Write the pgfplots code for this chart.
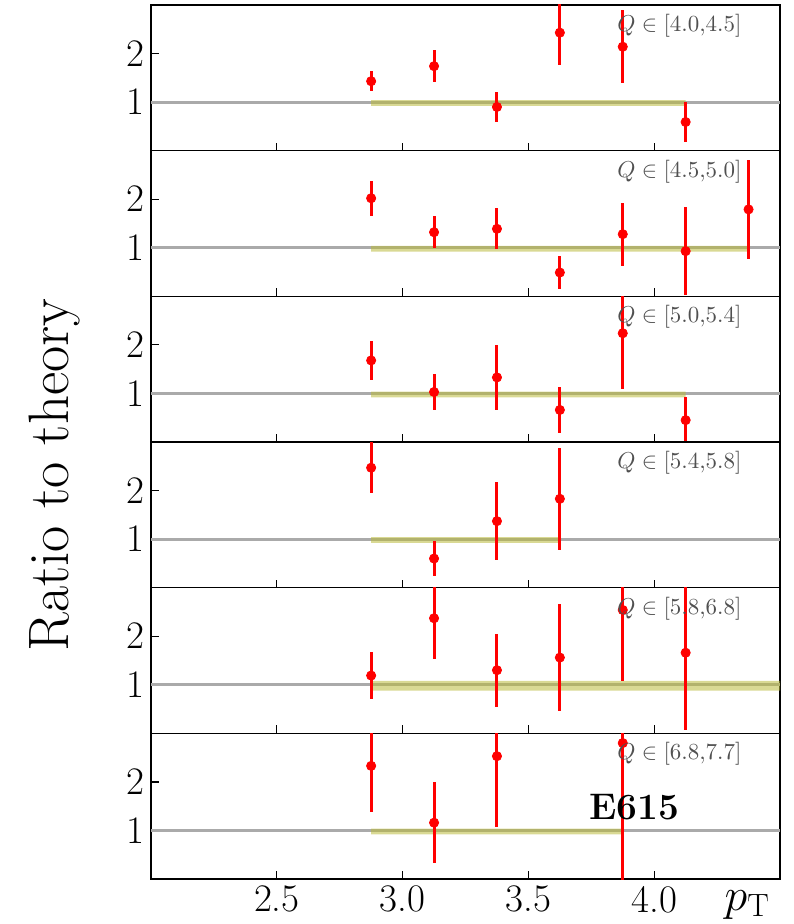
\RequirePackage{fix-cm}
\documentclass[border=0pt]{standalone}
\usepackage{fontspec}
\usepackage{pgfplots}
\pgfplotsset{compat=1.18}
\definecolor{bandc}{RGB}{185,185,60}
\definecolor{linec}{RGB}{170,170,170}
\definecolor{qtext}{RGB}{80,80,80}
\pgfplotsset{
  panel/.style={
    width=314.5pt, height=72.83pt, scale only axis,
    xmin=2, xmax=4.5, ymin=0, ymax=3,
    xtick={2.5,3,3.5,4}, ytick={1,2},
    xticklabels={},
    tick align=inside, xtick pos=bottom, ytick pos=left,
    major tick length=4pt,
    tick style={black, line width=0.6pt},
    axis line style={line width=0.8pt},
    ticklabel style={font=\fontsize{19.5}{19.5}\selectfont},
    anchor=north west,
    clip mode=individual,
  },
  dat/.style={red, only marks, mark=*, mark size=2.3pt, mark options={fill=red, draw=red},
    error bars/.cd, y dir=both, y explicit, error bar style={line width=1.5pt, red}, error mark=none},
}
\tikzset{ql/.style={anchor=east, text=qtext, font=\fontsize{11.5}{11.5}\selectfont}}
\newcommand{\theoryline}{\addplot[linec, line width=1.5pt, forget plot] coordinates {(2,1) (4.5,1)};}
\begin{document}
\begin{tikzpicture}
\path[use as bounding box] (-75.5pt,2.5pt) rectangle (321pt,-459.5pt);
% Panel 1
\begin{axis}[panel, at={(0,0)}]
\theoryline
\addplot[fill=bandc, fill opacity=0.55, draw=none] coordinates {(2.875,0.92) (4.125,0.92) (4.125,1.04) (2.875,1.04) (2.875,0.92)};
\addplot[dat] coordinates {
(2.875,1.43) +- (0,0.21)
(3.125,1.74) +- (0,0.33)
(3.375,0.90) +- (0,0.30)
(3.625,2.43) +- (0,0.67)
(3.875,2.14) +- (0,0.75)
(4.125,0.59) +- (0,0.42)
};
\node[ql] at (axis cs:4.375,2.57) {$Q\in[4.0{,}4.5]$};
\end{axis}
% Panel 2
\begin{axis}[panel, at={(0,-72.83pt)}]
\theoryline
\addplot[fill=bandc, fill opacity=0.55, draw=none] coordinates {(2.875,0.92) (4.375,0.92) (4.375,1.04) (2.875,1.04) (2.875,0.92)};
\addplot[dat] coordinates {
(2.875,2.02) +- (0,0.36)
(3.125,1.32) +- (0,0.33)
(3.375,1.39) +- (0,0.42)
(3.625,0.49) +- (0,0.34)
(3.875,1.28) +- (0,0.65)
(4.125,0.93) +- (0,0.90)
(4.375,1.79) +- (0,1.02)
};
\node[ql] at (axis cs:4.375,2.57) {$Q\in[4.5{,}5.0]$};
\end{axis}
% Panel 3
\begin{axis}[panel, at={(0,-145.67pt)}]
\theoryline
\addplot[fill=bandc, fill opacity=0.55, draw=none] coordinates {(2.875,0.92) (4.125,0.92) (4.125,1.04) (2.875,1.04) (2.875,0.92)};
\addplot[dat] coordinates {
(2.875,1.68) +- (0,0.40)
(3.125,1.03) +- (0,0.38)
(3.375,1.33) +- (0,0.67)
(3.625,0.66) +- (0,0.48)
(3.875,2.24) +- (0,1.14)
(4.125,0.45) +- (0,0.48)
};
\node[ql] at (axis cs:4.375,2.57) {$Q\in[5.0{,}5.4]$};
\end{axis}
% Panel 4
\begin{axis}[panel, at={(0,-218.5pt)}]
\theoryline
\addplot[fill=bandc, fill opacity=0.55, draw=none] coordinates {(2.875,0.92) (3.625,0.92) (3.625,1.04) (2.875,1.04) (2.875,0.92)};
\addplot[dat] coordinates {
(2.875,2.47) +- (0,0.53)
(3.125,0.60) +- (0,0.36)
(3.375,1.37) +- (0,0.80)
(3.625,1.83) +- (0,1.05)
};
\node[ql] at (axis cs:4.375,2.57) {$Q\in[5.4{,}5.8]$};
\end{axis}
% Panel 5
\begin{axis}[panel, at={(0,-291.33pt)}]
\theoryline
\addplot[fill=bandc, fill opacity=0.55, draw=none] coordinates {(2.875,0.88) (4.5,0.88) (4.5,1.08) (2.875,1.08) (2.875,0.88)};
\addplot[dat] coordinates {
(2.875,1.19) +- (0,0.48)
(3.125,2.37) +- (0,0.83)
(3.375,1.30) +- (0,0.75)
(3.625,1.56) +- (0,1.10)
(3.875,2.54) +- (0,1.46)
(4.125,1.66) +- (0,1.60)
};
\node[ql] at (axis cs:4.375,2.57) {$Q\in[5.8{,}6.8]$};
\end{axis}
% Panel 6
\begin{axis}[panel, at={(0,-364.17pt)}, xticklabels={2.5,3.0,3.5,4.0}]
\theoryline
\addplot[fill=bandc, fill opacity=0.55, draw=none] coordinates {(2.875,0.92) (3.875,0.92) (3.875,1.04) (2.875,1.04) (2.875,0.92)};
\addplot[dat] coordinates {
(2.875,2.33) +- (0,0.95)
(3.125,1.16) +- (0,0.83)
(3.375,2.53) +- (0,1.46)
(3.875,2.80) +- (0,2.90)
};
\node[ql] at (axis cs:4.375,2.57) {$Q\in[6.8{,}7.7]$};
\node[font=\bfseries\fontsize{18.5}{18.5}\selectfont] at (axis cs:3.92,1.48) {E615};
\node[anchor=base, font=\fontsize{23}{23}\selectfont] at ([yshift=-15.5pt]axis cs:4.37,0) {$p_{\mathrm{T}}$};
\end{axis}
\node[rotate=90, font=\fontsize{28.5}{28.5}\selectfont] at (-48pt,-235pt) {Ratio to theory};
\end{tikzpicture}
\end{document}
